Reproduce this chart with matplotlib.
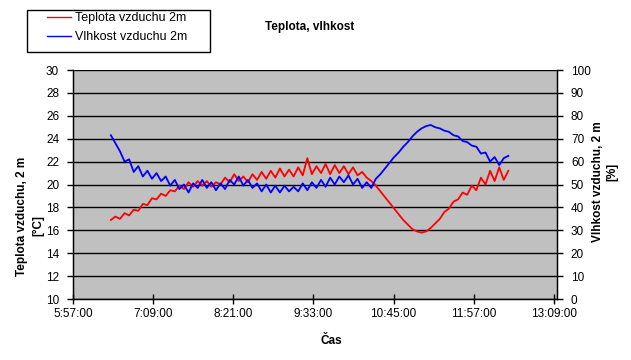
import matplotlib
matplotlib.use("Agg")
import matplotlib.pyplot as plt
import numpy as np
from matplotlib.ticker import FixedLocator
from matplotlib.patches import Rectangle

plt.rcParams['font.family'] = ['Liberation Sans', 'DejaVu Sans']

# ---- data, evenly spaced samples from 6:31 to 12:28 ----
start_time = "6:31"
end_time = "12:28"
temperature = [
    16.9, 17.2, 17.0, 17.5, 17.3, 17.8, 17.7, 18.3, 18.2, 18.8,
    18.7, 19.2, 19.0, 19.5, 19.4, 19.9, 19.6, 20.2, 19.8, 20.3,
    19.9, 20.3, 19.8, 20.2, 20.0, 20.6, 20.2, 20.9, 20.3, 20.7,
    20.2, 20.9, 20.4, 21.1, 20.5, 21.2, 20.6, 21.4, 20.7, 21.3,
    20.7, 21.5, 20.8, 22.3, 20.9, 21.6, 21.0, 21.8, 20.9, 21.7,
    21.0, 21.6, 20.9, 21.5, 20.8, 21.1, 20.6, 20.3, 19.9, 19.4,
    18.9, 18.4, 17.9, 17.4, 16.9, 16.5, 16.1, 15.9, 15.8, 15.9,
    16.2, 16.6, 17.0, 17.6, 17.9, 18.5, 18.7, 19.3, 19.1, 19.9,
    19.5, 20.6, 20.0, 21.2, 20.3, 21.5, 20.4, 21.2,
]
humidity = [
    71.5, 68.0, 64.5, 60.0, 61.0, 55.5, 58.0, 53.5, 56.0, 52.5,
    55.0, 51.5, 53.5, 49.5, 52.0, 48.0, 50.0, 46.5, 50.5, 48.5,
    52.0, 48.5, 51.0, 47.5, 50.5, 48.0, 52.0, 50.0, 53.5, 49.5,
    52.0, 48.5, 50.5, 47.0, 50.0, 46.5, 49.5, 46.5, 49.5, 47.0,
    49.0, 47.0, 50.5, 47.5, 51.0, 48.5, 52.0, 49.0, 53.0, 50.0,
    53.5, 51.0, 54.0, 50.0, 52.5, 48.5, 51.0, 48.5, 52.5, 54.5,
    57.0, 59.5, 62.0, 64.0, 66.5, 68.5, 71.0, 73.0, 74.5, 75.5,
    76.0, 75.0, 74.5, 73.5, 73.0, 71.5, 71.0, 69.0, 68.5, 67.0,
    66.5, 63.5, 64.0, 60.0, 62.0, 58.5, 61.5, 62.5,
]
x_tick_labels = ["5:57:00", "7:09:00", "8:21:00", "9:33:00", "10:45:00", "11:57:00", "13:09:00"]
series_names = ["Teplota vzduchu 2m", "Vlhkost vzduchu 2m"]


def to_min(s):
    parts = [int(p) for p in s.split(":")]
    return parts[0] * 60 + parts[1] + (parts[2] / 60 if len(parts) > 2 else 0)


times = np.linspace(to_min(start_time), to_min(end_time), len(temperature))
xticks = [to_min(s) for s in x_tick_labels]

W, H = 631, 360
fig = plt.figure(figsize=(W / 100, H / 100), dpi=100)
fig.patch.set_facecolor("white")

L, R, T, B = 73, 557, 70, 299
ax = fig.add_axes([L / W, 1 - B / H, (R - L) / W, (B - T) / H])
ax.set_facecolor("#C0C0C0")
ax.set_xlim(xticks[0], xticks[-1] + 2.7)
ax.set_ylim(10, 30)
ax.set_yticks(range(10, 31, 2))
ax.xaxis.set_major_locator(FixedLocator(xticks))
ax.set_xticklabels(x_tick_labels)
ax.grid(axis="y", color="black", linewidth=1)
ax.set_axisbelow(True)
for sp in ax.spines.values():
    sp.set_color("black")
    sp.set_linewidth(1)
ax.spines["top"].set_visible(False)
ax.tick_params(axis="y", direction="out", length=4, width=1, pad=6, labelsize=8.5)
ax.tick_params(axis="x", direction="inout", length=7, width=1, pad=3, labelsize=8.5)

ax2 = ax.twinx()
ax2.set_ylim(0, 100)
ax2.set_yticks(range(0, 101, 10))
ax2.tick_params(axis="y", direction="out", length=4, width=1, pad=6, labelsize=8.5)
for sp in ax2.spines.values():
    sp.set_color("black")
ax2.spines["top"].set_visible(False)

l1, = ax.plot(times, temperature, color="#FF0000", linewidth=1.3, zorder=3)
l2, = ax2.plot(times, humidity, color="#0000FF", linewidth=1.3, zorder=3)

# titles
fig.text(310 / W, 1 - 27 / H, "Teplota, vlhkost", ha="center", va="center",
         fontsize=8.5, fontweight="bold")
fig.text(331 / W, 1 - 341 / H, "Čas", ha="center", va="center",
         fontsize=8.5, fontweight="bold")
fig.text(22 / W, 1 - 216 / H, "Teplota vzduchu, 2 m", rotation=90, ha="center",
         va="center", fontsize=8.5, fontweight="bold")
fig.text(38 / W, 1 - 226 / H, "[°C]", rotation=90, ha="center",
         va="center", fontsize=8.5, fontweight="bold")
fig.text(598 / W, 1 - 182 / H, "Vlhkost vzduchu, 2 m", rotation=90, ha="center",
         va="center", fontsize=8.5, fontweight="bold")
fig.text(612 / W, 1 - 172 / H, "[%]", rotation=90, ha="center",
         va="center", fontsize=8.5, fontweight="bold")

# legend
fig.patches.append(Rectangle((27 / W, 1 - 52 / H), 183 / W, 42 / H,
                             transform=fig.transFigure, facecolor="white",
                             edgecolor="black", linewidth=1, zorder=0))
leg = fig.legend([l1, l2], series_names, loc="upper left",
                 bbox_to_anchor=(47 / W, 1 - 12 / H), frameon=False,
                 borderpad=0, borderaxespad=0, handlelength=1.9,
                 handletextpad=0.35, labelspacing=0.55, fontsize=9)
for h in leg.legend_handles:
    h.set_linewidth(1)

fig.savefig("out.png", dpi=100)
